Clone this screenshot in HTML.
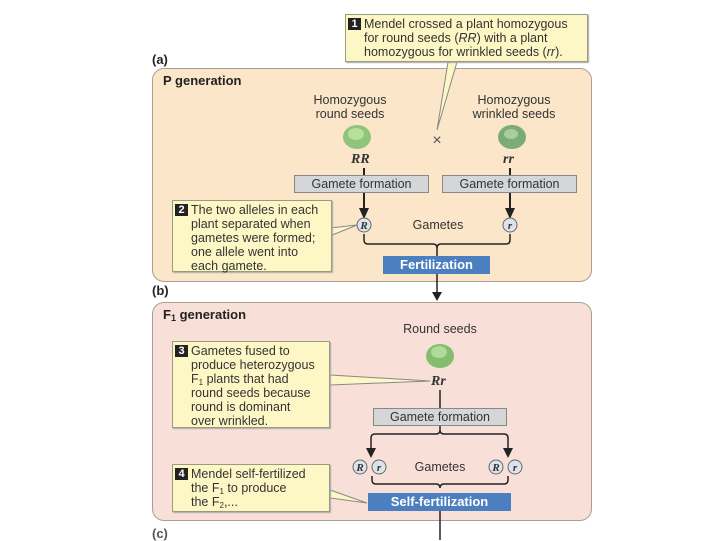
<!DOCTYPE html>
<html><head><meta charset="utf-8"><style>
body{margin:0;width:720px;height:540px;background:#fff;position:relative;overflow:hidden;font-family:"Liberation Sans",sans-serif;}
.a{position:absolute;}
.panel{position:absolute;border:1.5px solid #a89f94;border-radius:12px;}
.call{position:absolute;background:#fdf7c6;border:1px solid #9a9a80;box-shadow:1px 1px 1px #aaa;font-size:12.5px;line-height:14px;color:#333;padding:2px 2px 2px 18px;box-sizing:border-box;white-space:nowrap;}
.num{position:absolute;left:2px;top:3px;background:#222;color:#fff;font-weight:bold;font-size:11px;width:13px;height:12px;line-height:12px;text-align:center;}
.gf{position:absolute;background:#d4d6d8;border:1px solid #888;font-size:12.5px;color:#333;text-align:center;line-height:16px;box-sizing:border-box;}
.blue{position:absolute;background:#4c7fbf;color:#fff;font-weight:bold;font-size:13px;text-align:center;line-height:18px;}
.lbl{position:absolute;font-size:12.5px;color:#333;text-align:center;}
.it{font-family:"Liberation Serif",serif;font-style:italic;font-weight:bold;}
.hd{position:absolute;font-weight:bold;font-size:13px;color:#222;}
sub{font-size:8px;line-height:0;vertical-align:-2px;}
</style></head><body>
<div class="hd" style="left:152px;top:52px">(a)</div>
<div class="panel" style="left:152px;top:68px;width:438px;height:212px;background:#fbe6c9"></div>
<div class="hd" style="left:163px;top:73px">P generation</div>
<div class="hd" style="left:152px;top:283px">(b)</div>
<div class="panel" style="left:152px;top:302px;width:438px;height:217px;background:#f8e0d8"></div>
<div class="hd" style="left:163px;top:307px">F<sub style="font-size:9px">1</sub> generation</div>
<div class="hd" style="left:152px;top:526px;color:#555">(c)</div>

<svg class="a" style="left:0;top:0" width="720" height="540">
<ellipse cx="357" cy="137" rx="14" ry="12" fill="#8fc47a"/>
<ellipse cx="356" cy="134" rx="8" ry="6" fill="#b8df9e"/>
<ellipse cx="512" cy="137" rx="14" ry="12" fill="#7bab76"/>
<ellipse cx="511" cy="134" rx="7" ry="5" fill="#a8cf9b"/>
<ellipse cx="440" cy="356" rx="14" ry="12" fill="#85bd70"/>
<ellipse cx="439" cy="352" rx="8" ry="6" fill="#b0da98"/>
<g stroke="#222" stroke-width="2" fill="none">
<line x1="364" y1="168" x2="364" y2="210"/><line x1="510" y1="168" x2="510" y2="210"/>
<path d="M364,234 v6 q0,4 4,4 h65 q4,0 4,4 q0,-4 4,-4 h65 q4,0 4,-4 v-6" stroke-width="1.5"/>
<line x1="437" y1="248" x2="437" y2="256" stroke-width="1.5"/>
<line x1="437" y1="274" x2="437" y2="294" stroke-width="1.5"/>
<line x1="440" y1="390" x2="440" y2="408" stroke-width="1.5"/>
<path d="M440,426 v4 q0,4 -4,4 h-61 q-4,0 -4,4 v12 M440,430 q0,4 4,4 h60 q4,0 4,4 v12" stroke-width="1.5"/>
<path d="M372,476 v4 q0,4 4,4 h60 q4,0 4,4 q0,-4 4,-4 h60 q4,0 4,-4 v-4" stroke-width="1.5"/>
<line x1="440" y1="511" x2="440" y2="540" stroke-width="1.5"/>
</g>
<g fill="#222">
<path d="M359,208 h10 l-5,11z"/><path d="M505,208 h10 l-5,11z"/>
<path d="M432,292 h10 l-5,9z"/>
<path d="M366,448 h10 l-5,10z"/><path d="M503,448 h10 l-5,10z"/>
</g>
<text x="437" y="145" font-size="16" text-anchor="middle" fill="#555" font-family="Liberation Sans">×</text>
<g fill="#dde3ea" stroke="#666" stroke-width="1">
<circle cx="364" cy="225" r="7"/><circle cx="510" cy="225" r="7"/>
<circle cx="360" cy="467" r="7"/><circle cx="379" cy="467" r="7"/>
<circle cx="496" cy="467" r="7"/><circle cx="515" cy="467" r="7"/>
</g>
<g font-family="Liberation Serif" font-style="italic" font-weight="bold" font-size="11" text-anchor="middle" fill="#333">
<text x="364" y="229">R</text><text x="510" y="229">r</text>
<text x="360" y="471">R</text><text x="379" y="471">r</text>
<text x="496" y="471">R</text><text x="515" y="471">r</text>
</g>
<g stroke="#888" stroke-width="1" fill="#fdf7c6">
<path d="M448,62 L437,130 L457,62z"/>
<path d="M330,228 L357,225 L330,236z"/>
<path d="M330,375 L430,381 L330,385z"/>
<path d="M330,490 L367,503 L330,498z"/>
</g>
</svg>

<div class="call" style="left:345px;top:14px;width:243px;height:48px;">
<span class="num">1</span>Mendel crossed a plant homozygous<br>for round seeds (<i>RR</i>) with a plant<br>homozygous for wrinkled seeds (<i>rr</i>).</div>
<div class="call" style="left:172px;top:200px;width:160px;height:72px;">
<span class="num">2</span>The two alleles in each<br>plant separated when<br>gametes were formed;<br>one allele went into<br>each gamete.</div>
<div class="call" style="left:172px;top:341px;width:158px;height:87px;">
<span class="num">3</span>Gametes fused to<br>produce heterozygous<br>F<sub>1</sub> plants that had<br>round seeds because<br>round is dominant<br>over wrinkled.</div>
<div class="call" style="left:172px;top:464px;width:158px;height:48px;">
<span class="num">4</span>Mendel self-fertilized<br>the F<sub>1</sub> to produce<br>the F<sub>2</sub>,...</div>

<div class="lbl" style="left:300px;top:93px;width:100px;line-height:14px">Homozygous<br>round seeds</div>
<div class="lbl" style="left:460px;top:93px;width:108px;line-height:14px">Homozygous<br>wrinkled seeds</div>
<div class="a it" style="left:351px;top:152px;font-size:14px;color:#333">RR</div>
<div class="a it" style="left:503px;top:152px;font-size:14px;color:#333">rr</div>
<div class="gf" style="left:294px;top:175px;width:135px;height:18px">Gamete formation</div>
<div class="gf" style="left:442px;top:175px;width:135px;height:18px">Gamete formation</div>
<div class="lbl" style="left:400px;top:218px;width:76px">Gametes</div>
<div class="blue" style="left:383px;top:256px;width:107px;height:18px">Fertilization</div>
<div class="lbl" style="left:390px;top:322px;width:100px">Round seeds</div>
<div class="a it" style="left:431px;top:374px;font-size:14px;color:#333">Rr</div>
<div class="gf" style="left:373px;top:408px;width:134px;height:18px">Gamete formation</div>
<div class="lbl" style="left:402px;top:460px;width:76px">Gametes</div>
<div class="blue" style="left:368px;top:493px;width:143px;height:18px">Self-fertilization</div>
</body></html>
